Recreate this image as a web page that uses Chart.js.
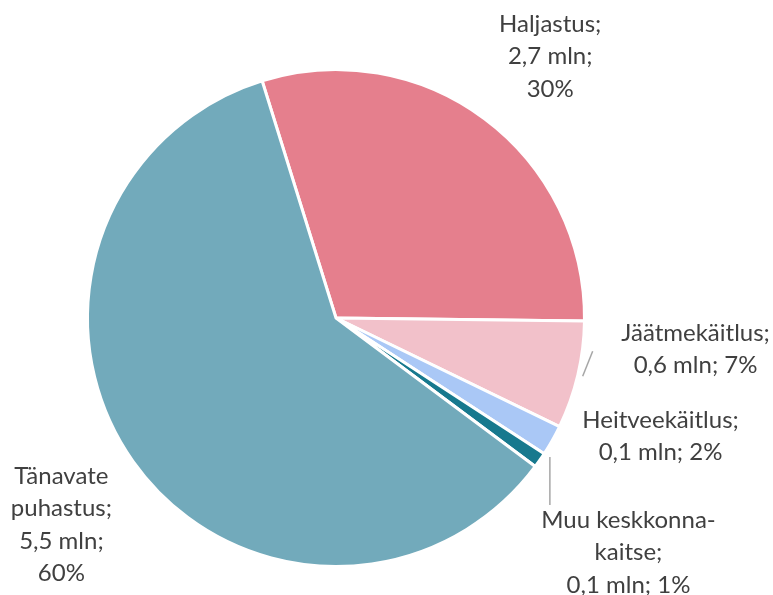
<!DOCTYPE html>
<html>
<head>
<meta charset="utf-8">
<script src="https://cdn.jsdelivr.net/npm/chart.js@4"></script>
<style>
  html,body{margin:0;padding:0;background:#fff}
  #wrap{width:773px;height:595px;position:relative}
</style>
</head>
<body>
<div id="wrap"><canvas id="pie"></canvas></div>
<script>
// data
const labels = ['Haljastus', 'Jäätmekäitlus', 'Heitveekäitlus', 'Muu keskkonnakaitse', 'Tänavate puhastus'];
const shares = [30, 7, 2, 1, 60];
const amounts = ['2,7', '0,6', '0,1', '0,1', '5,5'];
const colors = ['#e57f8d', '#f2c1ca', '#aac8f6', '#17798e', '#72aabb'];

// label text lines and where they sit (in units of the pie radius from its centre)
const labelLines = [
  ['Haljastus;', '2,7 mln;', '30%'],
  ['Jäätmekäitlus;', '0,6 mln; 7%'],
  ['Heitveekäitlus;', '0,1 mln; 2%'],
  ['Muu keskkonna-', 'kaitse;', '0,1 mln; 1%'],
  ['Tänavate', 'puhastus;', '5,5 mln;', '60%']
];
const labelPos = [
  [0.862, -1.052],
  [1.447, 0.125],
  [1.306, 0.476],
  [1.177, 0.944],
  [-1.105, 0.833]
];
const leader = [false, true, false, true, false];

const labelPlugin = {
  id: 'outLabels',
  afterDatasetsDraw(chart){
    const c = chart.ctx;
    const meta = chart.getDatasetMeta(0);
    c.save();
    c.font = '24px Lato, "Open Sans", sans-serif';
    c.fillStyle = '#404040';
    c.textAlign = 'center';
    c.textBaseline = 'middle';
    const lh = 32.5;
    meta.data.forEach((arc, i) => {
      const r = arc.outerRadius;
      const cx = arc.x + labelPos[i][0] * r;
      const cy = arc.y + labelPos[i][1] * r;
      const lines = labelLines[i];
      const top = cy - (lines.length - 1) * lh / 2;
      lines.forEach((t, k) => c.fillText(t, cx, top + k * lh));
      if(leader[i]){
        const mid = (arc.startAngle + arc.endAngle) / 2;
        const sx = arc.x + Math.cos(mid) * r * 1.02;
        const sy = arc.y + Math.sin(mid) * r * 1.02;
        c.strokeStyle = '#a6a6a6';
        c.lineWidth = 1.5;
        c.beginPath();
        if(i === 1){
          c.moveTo(sx, sy);
          c.lineTo(sx + 10, sy - 25);
        } else {
          c.moveTo(sx + 6, sy - 6);
          c.lineTo(sx + 6, top - 15);
        }
        c.stroke();
      }
    });
    c.restore();
  }
};

new Chart(document.getElementById('pie'), {
  type: 'pie',
  data: {
    labels,
    datasets: [{
      data: shares,
      backgroundColor: colors,
      borderColor: '#ffffff',
      borderWidth: 3
    }]
  },
  options: {
    responsive: true,
    maintainAspectRatio: false,
    animation: false,
    rotation: -17.3,
    layout: { padding: { left: 86, right: 187, top: 68, bottom: 27 } },
    plugins: { legend: { display: false }, tooltip: { enabled: false } }
  },
  plugins: [labelPlugin]
});
</script>
</body>
</html>
